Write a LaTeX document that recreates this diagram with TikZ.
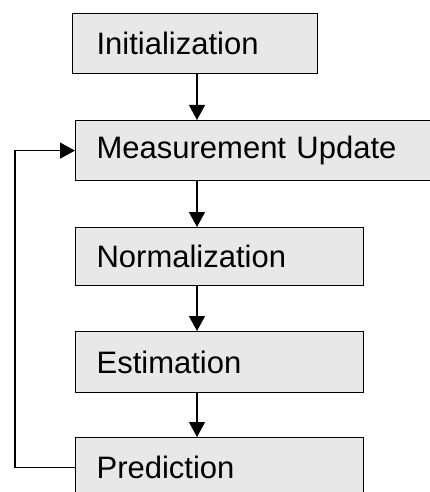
\documentclass[tikz,border=0pt]{standalone}
\usepackage{fontspec}
\setmainfont{Liberation Sans}
\usepackage{tikz}
\usetikzlibrary{arrows.meta}
\usetikzlibrary{positioning}
\definecolor{boxgray}{RGB}{232,232,232}
\tikzset{
  stage/.style = {rectangle, draw=black, fill=boxgray, line width=1.2pt,
    anchor=north west, minimum height=60pt, inner xsep=21pt, align=left,
    font=\fontsize{31}{37}\selectfont},
}

\begin{document}
\begin{tikzpicture}[x=1pt,y=-1pt,->,>={Triangle[length=15pt,width=16pt]},
  line width=1.2pt]
  \useasboundingbox (0,0) rectangle (430,492);
  \clip (0,0) rectangle (430,492);
            \coordinate (axis) at (197,0);
            \coordinate (loop) at (15,0);
            \node[stage, text width=197pt, inner xsep=24pt] (init) at (72,13) {Initialization};
            \node[stage, text width=328pt] (meas) at (75,120) {Measurement Update};
            \node[stage, text width=246pt, minimum height=58pt] (norm) at (75,227) {Normalization};
            \node[stage, text width=246pt, minimum height=61pt] (est) at (75,331) {Estimation};
            \node[stage, text width=246pt] (pred) at (75,437) {Prediction};
            \draw (init.south -| axis) -- (meas.north -| axis);
            \draw (meas.south -| axis) -- (norm.north -| axis);
            \draw (norm.south -| axis) -- (est.north -| axis);
            \draw (est.south -| axis) -- (pred.north -| axis);
            \draw (pred.west) -- (pred.west -| loop) |- (meas.west);
        \end{tikzpicture}
\end{document}
